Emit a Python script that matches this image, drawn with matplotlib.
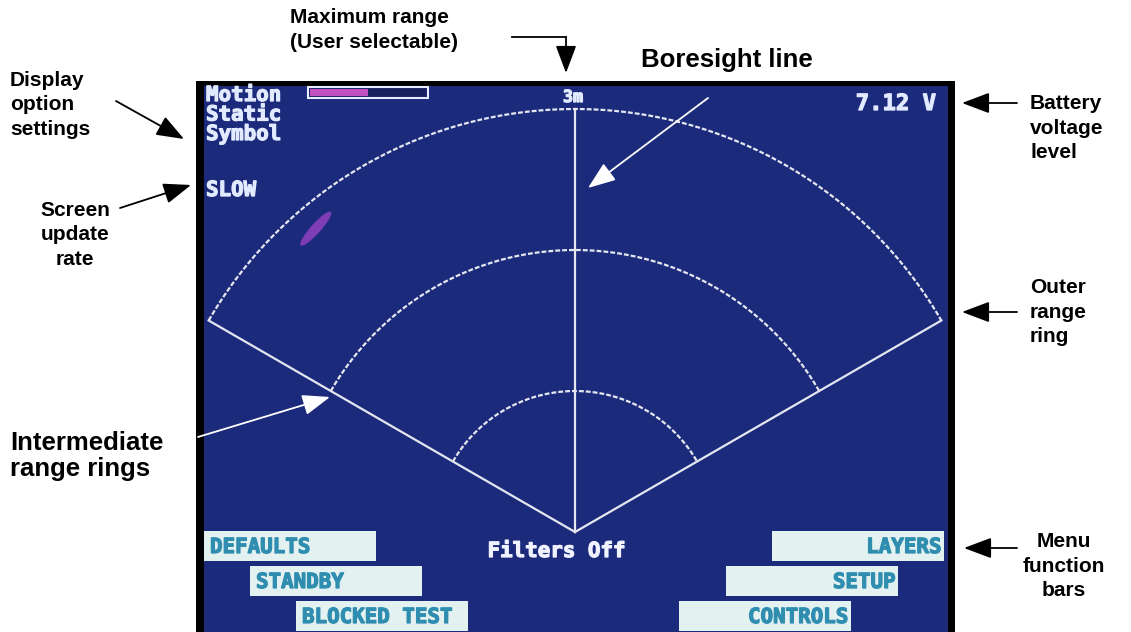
import numpy as np
import matplotlib
matplotlib.use("Agg")
import matplotlib.pyplot as plt
from matplotlib.patches import Rectangle, Ellipse
import matplotlib.patheffects as pe

# ---------------- data ----------------
max_range_m = 3
ring_ranges = [1, 2, 3]          # metres
half_angle_deg = 60              # sector half width
target_range = 2.83              # detected object
target_bearing = -40.5           # degrees from boresight
target_len, target_wid, target_tilt = 0.32, 0.07, 48

display_options = ["Motion", "Static", "Symbol"]
update_rate = "SLOW"
battery_text = "7.12 V"
range_label = "3m"
filter_text = "Filters Off"
sensitivity_fill = 0.5           # fraction of bar filled

menu_left = ["DEFAULTS", "STANDBY", "BLOCKED TEST"]
menu_right = ["LAYERS", "SETUP", "CONTROLS"]

# ---------------- figure ----------------
W, H = 1131, 632
fig = plt.figure(figsize=(W / 100, H / 100), dpi=100)
fig.patch.set_facecolor("white")

SCREEN_BG = "#1c2a7c"
LINE_C = "#e4e6f0"
SCREEN_TXT = "#e2eaff"
BOX_C = "#e3f1f1"
BOX_TXT = "#2f8db0"

# screen axes in metres; apex pixel (575,532), 141 px per metre
px_per_m = 141.0
apex_px = (575, 532)
sx0, sx1, sy0, sy1 = 196, 955, 81, 632
sax = fig.add_axes([sx0 / W, (H - sy1) / H, (sx1 - sx0) / W, (sy1 - sy0) / H])
sax.set_xlim((sx0 - apex_px[0]) / px_per_m, (sx1 - apex_px[0]) / px_per_m)
sax.set_ylim((apex_px[1] - sy1) / px_per_m, (apex_px[1] - sy0) / px_per_m)
sax.set_facecolor("black")
sax.set_xticks([]); sax.set_yticks([])
for s in sax.spines.values():
    s.set_visible(False)
sax.add_patch(Rectangle((8 / 759, 0), 744 / 759, 546 / 551, transform=sax.transAxes,
                        facecolor=SCREEN_BG, edgecolor="none", zorder=0))

th = np.radians(np.linspace(-half_angle_deg, half_angle_deg, 300))
for r in ring_ranges:
    sax.plot(r * np.sin(th), r * np.cos(th), color=LINE_C, lw=1.6,
             dashes=(2.2, 0.9), zorder=2)
for a in (-half_angle_deg, half_angle_deg):
    ar = np.radians(a)
    sax.plot([0, max_range_m * np.sin(ar)], [0, max_range_m * np.cos(ar)],
             color=LINE_C, lw=1.6, zorder=2)
sax.plot([0, 0], [0, max_range_m], color=LINE_C, lw=1.6, zorder=2)

tb = np.radians(target_bearing)
sax.add_patch(Ellipse((target_range * np.sin(tb), target_range * np.cos(tb)),
                      target_len, target_wid, angle=target_tilt,
                      facecolor="#9040c0", edgecolor="none", alpha=0.85, zorder=1))

# ---------------- overlay in pixel coordinates ----------------
ax = fig.add_axes([0, 0, 1, 1])
ax.set_xlim(0, W); ax.set_ylim(H, 0)
ax.axis("off")
ax.patch.set_alpha(0)
ax.set_zorder(5)

mono = dict(family="DejaVu Sans Mono", weight="bold")


def scr_text(x, y, s, color, size, ha):
    t = ax.text(x, y, s, color=color, fontsize=size, ha=ha, va="center", **mono)
    t.set_path_effects([pe.withStroke(linewidth=0.9, foreground=color)])
    return t


for i, t in enumerate(display_options):
    scr_text(206, 95 + i * 19.5, t, SCREEN_TXT, 15, "left")
scr_text(206, 190, update_rate, SCREEN_TXT, 15, "left")
scr_text(573, 97, range_label, SCREEN_TXT, 12, "center")
scr_text(936, 104, battery_text, SCREEN_TXT, 16, "right")
scr_text(557, 551, filter_text, "#f0f2ff", 15, "center")

# sensitivity bar
bx0, bx1, by0, by1 = 308, 428, 87, 98
ax.add_patch(Rectangle((bx0, by0), bx1 - bx0, by1 - by0, facecolor="#1a1f62",
                       edgecolor="#e8ecff", lw=1.5))
ax.add_patch(Rectangle((bx0 + 2, by0 + 2), (bx1 - bx0 - 4) * sensitivity_fill, by1 - by0 - 4,
                       facecolor="#c050c0", edgecolor="none"))

# menu bars
box_w, box_h = 172, 30
left_x = [204, 250, 296]
right_x = [772, 726, 679]
rows_y = [531, 566, 601]
for lab, x, y in zip(menu_left, left_x, rows_y):
    ax.add_patch(Rectangle((x, y), box_w, box_h, facecolor=BOX_C, edgecolor="none"))
    scr_text(x + 6, y + box_h / 2 + 1, lab, BOX_TXT, 15, "left")
for lab, x, y in zip(menu_right, right_x, rows_y):
    ax.add_patch(Rectangle((x, y), box_w, box_h, facecolor=BOX_C, edgecolor="none"))
    scr_text(x + box_w - 2, y + box_h / 2 + 1, lab, BOX_TXT, 15, "right")

# annotations
lab = dict(family="Liberation Sans", weight="bold", color="black")
LS = 1.38
ax.text(290, 30, "Maximum range\n(User selectable)", fontsize=15, ha="left", va="center",
        linespacing=LS, **lab)
ax.text(641, 60, "Boresight line", fontsize=18.5, ha="left", va="center", **lab)
ax.text(10, 105, "Display\noption\nsettings", fontsize=15, ha="left", va="center",
        linespacing=LS, **lab)
ax.text(75, 235, "Screen\nupdate\nrate", fontsize=15, ha="center", va="center",
        multialignment="center", linespacing=LS, **lab)
ax.text(10, 456, "Intermediate\nrange rings", fontsize=18.5, ha="left", va="center",
        linespacing=1.15, **lab)
ax.text(1030, 128, "Battery\nvoltage\nlevel", fontsize=15, ha="left", va="center",
        linespacing=LS, **lab)
ax.text(1030, 312, "Outer\nrange\nring", fontsize=15, ha="left", va="center",
        linespacing=LS, **lab)
ax.text(1064, 566, "Menu\nfunction\nbars", fontsize=15, ha="center", va="center",
        multialignment="center", linespacing=LS, **lab)


def arrow(x0, y0, x1, y1, color="black"):
    ax.annotate("", xy=(x1, y1), xytext=(x0, y0),
                arrowprops=dict(arrowstyle="-|>,head_length=0.85,head_width=0.32",
                                mutation_scale=20, lw=1.3, color=color,
                                shrinkA=0, shrinkB=0))


arrow(116, 101, 184, 139)
arrow(120, 208, 191, 185)
ax.plot([512, 566], [37, 37], color="black", lw=1.3)
arrow(566, 37, 566, 73)
arrow(708, 98, 588, 188, color="white")
arrow(198, 437, 330, 397, color="white")
arrow(1017, 103, 962, 103)
arrow(1017, 312, 962, 312)
arrow(1017, 548, 964, 548)

fig.savefig("out.png", dpi=100, facecolor="white")
